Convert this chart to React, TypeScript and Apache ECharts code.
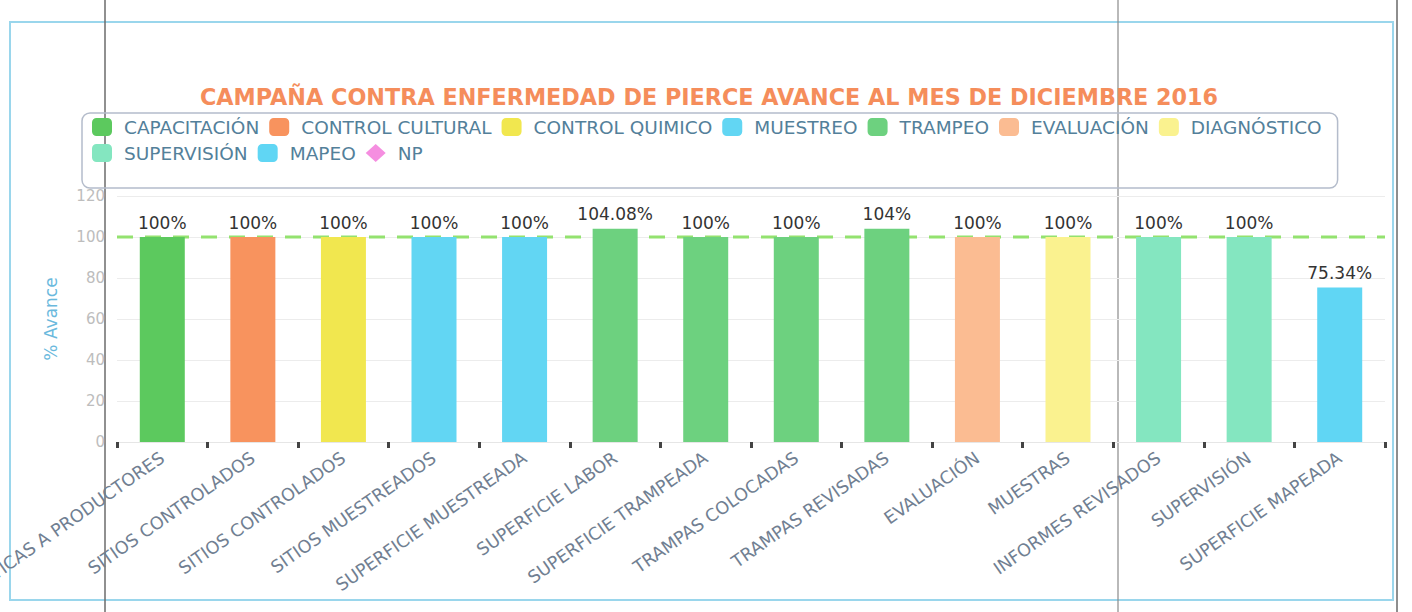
import React, { useEffect, useRef } from "react";
import * as echarts from "echarts";

const categories = [
  "PLÁTICAS A PRODUCTORES",
  "SITIOS CONTROLADOS",
  "SITIOS CONTROLADOS",
  "SITIOS MUESTREADOS",
  "SUPERFICIE MUESTREADA",
  "SUPERFICIE LABOR",
  "SUPERFICIE TRAMPEADA",
  "TRAMPAS COLOCADAS",
  "TRAMPAS REVISADAS",
  "EVALUACIÓN",
  "MUESTRAS",
  "INFORMES REVISADOS",
  "SUPERVISIÓN",
  "SUPERFICIE MAPEADA",
];

const values = [100, 100, 100, 100, 100, 104.08, 100, 100, 104, 100, 100, 100, 100, 75.34];

const groups = [
  "CAPACITACIÓN",
  "CONTROL CULTURAL",
  "CONTROL QUIMICO",
  "MUESTREO",
  "MUESTREO",
  "TRAMPEO",
  "TRAMPEO",
  "TRAMPEO",
  "TRAMPEO",
  "EVALUACIÓN",
  "DIAGNÓSTICO",
  "SUPERVISIÓN",
  "SUPERVISIÓN",
  "MAPEO",
];

const legendNames = [
  "CAPACITACIÓN",
  "CONTROL CULTURAL",
  "CONTROL QUIMICO",
  "MUESTREO",
  "TRAMPEO",
  "EVALUACIÓN",
  "DIAGNÓSTICO",
  "SUPERVISIÓN",
  "MAPEO",
  "NP",
];

const legendColors = [
  "#5cc95e",
  "#f8935e",
  "#f1e74f",
  "#62d6f3",
  "#6dd17f",
  "#fbbc92",
  "#faf28f",
  "#84e6c0",
  "#60d6f4",
  "#f58ee0",
];

const target = 100;
const yTicks = { min: 0, max: 120, interval: 20 };

const FONT = "DejaVu Sans";

export default function App() {
  const ref = useRef<HTMLDivElement>(null);

  useEffect(() => {
    document.body.style.margin = "0";
    if (!ref.current) return;
    const chart = echarts.init(ref.current, null, { renderer: "svg" });

    const barSeries = legendNames
      .filter((n) => n !== "NP")
      .map((name) => {
        const color = legendColors[legendNames.indexOf(name)];
        return {
          name,
          type: "bar",
          stack: "all",
          barWidth: 45,
          z: 3,
          itemStyle: { color },
          label: {
            show: true,
            position: "top",
            distance: 6,
            color: "#333333",
            fontFamily: FONT,
            fontSize: 17,
            formatter: (p: any) => (p.value == null ? "" : `${p.value}%`),
          },
          data: values.map((v, i) => (groups[i] === name ? v : null)),
        };
      });

    const option: any = {
      animation: false,
      backgroundColor: "#ffffff",
      textStyle: { fontFamily: FONT },
      title: {
        text: "CAMPAÑA CONTRA ENFERMEDAD DE PIERCE AVANCE AL MES DE DICIEMBRE 2016",
        left: 195,
        top: 81,
        textStyle: {
          color: "#f58d5b",
          fontSize: 22.3,
          fontWeight: "bold",
          fontFamily: FONT,
        },
      },
      legend: {
        left: 82,
        top: 113,
        width: 1252,
        padding: [3, 10, 24, 10],
        borderColor: "#b4bccb",
        borderWidth: 1.5,
        borderRadius: 8,
        itemWidth: 20,
        itemHeight: 18,
        itemGap: 4,
        textStyle: {
          color: "#53809a",
          fontSize: 18.5,
          lineHeight: 22,
          fontFamily: FONT,
          padding: [0, 6, 0, 7],
        },
        data: legendNames.map((n) =>
          n === "NP"
            ? { name: n, icon: "diamond" }
            : { name: n, icon: "roundRect" }
        ),
      },
      grid: {
        left: 117,
        right: 27,
        top: 196,
        bottom: 170,
        containLabel: false,
        outerBoundsMode: "none",
      },
      xAxis: [
        {
          type: "category",
          data: categories,
          axisLine: { show: true, lineStyle: { color: "#e6e6e6" } },
          axisTick: {
            show: true,
            interval: 0,
            length: 6,
            lineStyle: { color: "#444444", width: 3 },
          },
          axisLabel: {
            interval: 0,
            rotate: 35,
            margin: 14,
            color: "#717f92",
            fontSize: 17.5,
            fontFamily: FONT,
          },
        },
        { type: "value", min: 0, max: categories.length, show: false },
      ],
      yAxis: {
        type: "value",
        min: yTicks.min,
        max: yTicks.max,
        interval: yTicks.interval,
        name: "% Avance",
        nameLocation: "middle",
        nameGap: 58,
        nameTextStyle: { color: "#6ab9dd", fontSize: 17, fontFamily: FONT },
        axisLine: { show: false },
        axisTick: { show: false },
        axisLabel: { color: "#bdbdbd", fontSize: 15, margin: 12, fontFamily: FONT },
        splitLine: { lineStyle: { color: "#ececec" } },
      },
      series: [
        ...barSeries,
        {
          name: "NP",
          type: "line",
          symbol: "diamond",
          itemStyle: { color: "#f58ee0" },
          data: [],
        },
        {
          name: "meta",
          type: "line",
          xAxisIndex: 1,
          z: 1,
          silent: true,
          symbol: "none",
          lineStyle: { color: "#93e26f", width: 3, type: [16, 12] },
          data: [
            [0, target],
            [categories.length, target],
          ],
        },
      ],
      graphic: [
        {
          type: "rect",
          shape: { x: 10, y: 22, width: 1383, height: 578 },
          style: { fill: "none", stroke: "#9ad6ec", lineWidth: 2 },
          silent: true,
        },
        {
          type: "line",
          shape: { x1: 105, y1: 0, x2: 105, y2: 612 },
          style: { stroke: "#6b6b6b", lineWidth: 2, opacity: 0.75 },
          silent: true,
        },
        {
          type: "line",
          shape: { x1: 1118, y1: 0, x2: 1118, y2: 612 },
          style: { stroke: "#8a8a8a", lineWidth: 2, opacity: 0.6 },
          silent: true,
        },
        {
          type: "line",
          shape: { x1: 1397, y1: 0, x2: 1397, y2: 612 },
          style: { stroke: "#444444", lineWidth: 1.5, opacity: 0.8 },
          silent: true,
        },
      ],
    };

    chart.setOption(option);
    return () => chart.dispose();
  }, []);

  return <div ref={ref} style={{ width: 1412, height: 612 }} />;
}
